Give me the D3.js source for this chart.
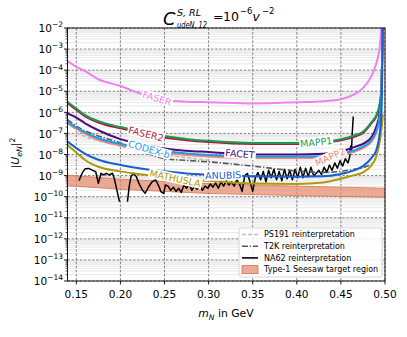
<!DOCTYPE html>
<html><head><meta charset="utf-8">
<script src="https://cdn.jsdelivr.net/npm/d3@7"></script>
<style>
body{margin:0;background:#fff}
svg{display:block}
text{font-family:"DejaVu Sans",sans-serif;fill:#000}
</style>
</head><body>
<svg id="c" width="407" height="337"></svg>
<script>
// ---- data: heavy neutral lepton mass (GeV) and log10 |U_eN|^2 ----
const masses = [0.14,0.15,0.16,0.175,0.2,0.225,0.25,0.275,0.3,0.35,0.4,0.43,0.45,0.465,0.475,0.485,0.49,0.494,0.496,0.4975];
const faserExp    = [-3.57,-3.84,-4.05,-4.43,-4.75,-5.15,-5.42,-5.5,-5.52,-5.58,-5.52,-5.47,-5.38,-5.15,-4.85,-4.25,-3.7,-2.9,-1.9,null];
const faser2Exp   = [-5.56,-5.88,-6.19,-6.48,-6.76,-6.99,-7.19,-7.32,-7.41,-7.5,-7.5,-7.45,-7.33,-7.16,-6.98,-6.5,-6.2,-5.65,-4.85,-1.8];
const mapp1Exp    = [-5.5,-5.82,-6.13,-6.42,-6.7,-6.92,-7.12,-7.26,-7.35,-7.45,-7.45,-7.4,-7.28,-7.1,-6.92,-6.45,-6.15,-5.6,-4.8,-1.8];
const facetExp    = [-6.05,-6.25,-6.52,-6.85,-7.27,-7.5,-7.72,-7.82,-7.88,-8.0,-8.0,-7.97,-7.85,-7.65,-7.5,-7.16,-6.7,-6.0,-4.9,-1.8];
const codexbExp   = [-6.45,-6.72,-6.95,-7.23,-7.5,-7.7,-7.85,-7.95,-8.02,-8.1,-8.1,-8.08,-7.98,-7.8,-7.63,-7.3,-6.9,-6.2,-5.0,-1.8];
const mapp2Exp    = [-6.52,-6.79,-7.02,-7.3,-7.57,-7.77,-7.92,-8.02,-8.09,-8.17,-8.17,-8.15,-8.05,-7.87,-7.7,-7.37,-6.97,-6.27,-5.1,-1.9];
const t2kExp      = [-6.35,-6.65,-6.88,-7.12,-7.45,-7.85,-8.2,-8.28,-8.35,-8.55,-8.78,-8.85,-8.8,-8.7,-8.62,-8.45,null,null,null,null];
const ps191Exp    = [null,-6.97,-7.15,-7.35,-7.6,-7.82,-8.0,-8.15,-8.27,null,null,null,null,null,null,null,null,null,null,null];
const anubisExp   = [-7.39,-7.7,-7.97,-8.25,-8.5,-8.68,-8.8,-8.9,-8.96,-9.03,-9.05,-9.03,-8.92,-8.75,-8.55,-8.15,-7.8,-7.0,-6.0,-1.8];
const mathuslaExp = [-7.55,-7.9,-8.26,-8.58,-8.8,-8.95,-9.08,-9.18,-9.25,-9.38,-9.4,-9.33,-9.15,-8.98,-8.85,-8.5,-8.1,-7.4,-6.8,-6.1];

const bandMass     = [0.14,0.2,0.3,0.4,0.5];
const bandUpperExp = [-8.98,-9.17,-9.38,-9.5,-9.6];
const bandLowerExp = [-9.48,-9.65,-9.85,-9.95,-10.03];

const na62Mass = [0.153,0.157,0.160,0.164,0.168,0.172,0.175,0.178,0.181,0.184,0.187,0.191,0.193,0.196,0.199,0.203,
 0.208,0.210,0.212,0.215,0.218,0.221,0.225,0.228,0.232,0.236,0.240,0.243,0.246,0.249,0.251,0.254,0.257,0.260,0.263,0.266,
 0.269,0.272,0.275,0.278,0.281,0.284,0.287,0.290,0.293,0.296,0.299,0.302,0.305,0.308,0.311,0.314,0.317,0.320,0.323,0.326,
 0.329,0.332,0.335,0.338,0.341,0.344,0.347,0.350,0.353,0.356,0.359,0.362,0.365,0.368,0.371,0.374,0.377,0.380,0.383,0.386,
 0.389,0.392,0.395,0.398,0.401,0.404,0.407,0.410,0.413,0.416,0.419,0.422,0.425,0.428,0.431,0.434,0.437,0.440,0.443,0.446,
 0.449,0.452,0.455,0.458,0.460,0.461,0.462,0.463,0.464];
const na62Exp = [-9.24,-8.85,-8.68,-8.66,-8.74,-8.82,-9.37,-8.89,-8.97,-8.89,-8.97,-8.89,-9.13,-9.69,-10.24,null,
 -10.24,-9.5,-9.05,-8.89,-9.05,-9.37,-9.69,-9.84,-9.53,-9.29,-9.21,-9.45,-9.77,-9.84,-9.45,-9.5,-9.7,-9.55,-9.75,-9.6,
 -9.8,-9.45,-9.6,-9.4,-9.7,-9.5,-9.65,-9.45,-9.7,-9.5,-9.6,-9.4,-9.55,-9.35,-9.6,-9.3,-9.5,-9.25,-9.45,-9.3,
 -9.5,-9.2,-9.4,-9.75,-9.0,-8.9,-9.3,-9.75,-9.1,-8.85,-9.2,-8.8,-9.3,-8.75,-9.1,-8.7,-9.2,-8.8,-9.25,-8.7,
 -9.15,-8.75,-9.2,-8.7,-9.1,-8.6,-9.1,-8.65,-9.05,-8.6,-9.0,-8.9,-8.75,-8.95,-8.6,-8.85,-8.5,-8.75,-8.4,-8.65,
 -8.3,-8.55,-8.2,-8.4,-8.1,-7.6,-7.8,-6.9,-6.2];

const xTicks = [0.15,0.20,0.25,0.30,0.35,0.40,0.45,0.50];
const yTickExps = [-2,-3,-4,-5,-6,-7,-8,-9,-10,-11,-12,-13,-14];

// ---- layout ----
const svg = d3.select("#c");
const L = 67.5, R = 385, T = 28, B = 281;
const x = d3.scaleLinear().domain([0.14,0.5]).range([L,R]);
const y = d3.scaleLog().domain([1e-14,1e-2]).range([B,T]);
const Y = e => y(Math.pow(10,e));

svg.append("defs").append("clipPath").attr("id","clip")
  .append("rect").attr("x",L).attr("y",T).attr("width",R-L).attr("height",B-T);

// minor grid
const minor = [];
for (let k=-14;k<-2;k++) for (let j=2;j<10;j++) minor.push(j*Math.pow(10,k));
svg.append("g").selectAll("line").data(minor).join("line")
  .attr("x1",L).attr("x2",R).attr("y1",d=>y(d)).attr("y2",d=>y(d))
  .attr("stroke","#d9d9d9").attr("stroke-width",0.6);
// major grid
svg.append("g").selectAll("line").data(yTickExps).join("line")
  .attr("x1",L).attr("x2",R).attr("y1",d=>Y(d)).attr("y2",d=>Y(d))
  .attr("stroke","#666").attr("stroke-width",0.8).attr("stroke-dasharray","2.5,1.6");
svg.append("g").selectAll("line").data(xTicks).join("line")
  .attr("y1",T).attr("y2",B).attr("x1",d=>x(d)).attr("x2",d=>x(d))
  .attr("stroke","#666").attr("stroke-width",0.8).attr("stroke-dasharray","2.5,1.6");

const plot = svg.append("g").attr("clip-path","url(#clip)");

// seesaw band
const band = bandMass.map((m,i)=>({m,u:bandUpperExp[i],l:bandLowerExp[i]}));
plot.append("path").datum(band)
  .attr("d", d3.area().x(d=>x(d.m)).y0(d=>Y(d.l)).y1(d=>Y(d.u)))
  .attr("fill","#e58a6e").attr("fill-opacity",0.72)
  .attr("stroke","#d9714f").attr("stroke-width",0.8);

const mkLine = d3.line().defined(d=>d.v!=null).x(d=>x(d.m)).y(d=>Y(d.v)).curve(d3.curveMonotoneX);
const pts = (ms,vs)=>ms.map((m,i)=>({m,v:vs[i]}));

// NA62
plot.append("path").datum(pts(na62Mass,na62Exp))
  .attr("d", d3.line().defined(d=>d.v!=null).x(d=>x(d.m)).y(d=>Y(d.v)))
  .attr("fill","none").attr("stroke","#000").attr("stroke-width",1.5).attr("stroke-linejoin","round");

const series = [
  {name:"PS191", v:ps191Exp, c:"#bdbdbd", w:1.5, dash:"4,2"},
  {name:"T2K", v:t2kExp, c:"#595959", w:1.6, dash:"6,1.8,1.3,1.8"},
  {name:"FASER", v:faserExp, c:"#ee82ee", w:2},
  {name:"FASER2", v:faser2Exp, c:"#b2183c", w:2},
  {name:"MAPP1", v:mapp1Exp, c:"#1c9a4f", w:2},
  {name:"FACET", v:facetExp, c:"#4b0c7c", w:2},
  {name:"MAPP2", v:mapp2Exp, c:"#f4876e", w:2},
  {name:"CODEX-b", v:codexbExp, c:"#1a9cec", w:2},
  {name:"MATHUSLA", v:mathuslaExp, c:"#ad9a0c", w:2},
  {name:"ANUBIS", v:anubisExp, c:"#1a5fcf", w:2},
];
series.forEach(s=>{
  plot.append("path").datum(pts(masses,s.v)).attr("d",mkLine)
    .attr("fill","none").attr("stroke",s.c).attr("stroke-width",s.w)
    .attr("stroke-dasharray",s.dash||null);
});

// inline labels
function interp(vs,m){
  for (let i=0;i<masses.length-1;i++){
    if (m>=masses[i] && m<=masses[i+1]){
      const t=(m-masses[i])/(masses[i+1]-masses[i]);
      return vs[i]+(vs[i+1]-vs[i])*t;
    }
  }
}
const labels = [
  {t:"FASER", m:0.2415, v:faserExp, c:"#ee82ee", r:17},
  {t:"FASER2", m:0.229, v:faser2Exp, c:"#b2183c", r:14},
  {t:"CODEX-b", m:0.2325, v:codexbExp, c:"#1a9cec", r:16},
  {t:"FACET", m:0.3356, v:facetExp, c:"#4b0c7c", r:5},
  {t:"MAPP1", m:0.422, v:mapp1Exp, c:"#1c9a4f", r:-6},
  {t:"MAPP2", m:0.4377, v:mapp2Exp, c:"#f4876e", r:-24},
  {t:"ANUBIS", m:0.3165, v:anubisExp, c:"#1a5fcf", r:-2},
  {t:"MATHUSLA", m:0.262, v:mathuslaExp, c:"#ad9a0c", r:12},
];
labels.forEach(l=>{
  const g = svg.append("g").attr("transform",`translate(${x(l.m)},${Y(interp(l.v,l.m))}) rotate(${l.r})`);
  const rect = g.append("rect").attr("fill","#fff");
  const tx = g.append("text").attr("text-anchor","middle").attr("dominant-baseline","central")
    .attr("font-size",9.5).style("fill",l.c).text(l.t);
  const bb = tx.node().getBBox();
  rect.attr("x",bb.x-1).attr("y",bb.y+0.5).attr("width",bb.width+2).attr("height",bb.height-1);
});

// spines
svg.append("rect").attr("x",L).attr("y",T).attr("width",R-L).attr("height",B-T)
  .attr("fill","none").attr("stroke","#000").attr("stroke-width",0.9);

// ticks
svg.append("g").selectAll("line").data(xTicks).join("line")
  .attr("x1",d=>x(d)).attr("x2",d=>x(d)).attr("y1",B).attr("y2",B+3.5).attr("stroke","#000").attr("stroke-width",0.9);
svg.append("g").selectAll("text").data(xTicks).join("text")
  .attr("x",d=>x(d)).attr("y",298).attr("text-anchor","middle").attr("font-size",10.5)
  .text(d=>d3.format(".2f")(d));
svg.append("g").selectAll("line").data(yTickExps).join("line")
  .attr("x1",L-3.5).attr("x2",L).attr("y1",d=>Y(d)).attr("y2",d=>Y(d)).attr("stroke","#000").attr("stroke-width",0.9);
svg.append("g").selectAll("line").data(minor).join("line")
  .attr("x1",L-2).attr("x2",L).attr("y1",d=>y(d)).attr("y2",d=>y(d)).attr("stroke","#000").attr("stroke-width",0.6);
const yt = svg.append("g").selectAll("text").data(yTickExps).join("text")
  .attr("x",L-4.5).attr("y",d=>Y(d)+4.2).attr("text-anchor","end").attr("font-size",10.5);
yt.append("tspan").text("10");
yt.append("tspan").attr("dy",-4.8).attr("font-size",7.5).text(d=>"\u2212"+Math.abs(d));

// axis labels
const xl = svg.append("text").attr("x",226).attr("y",317).attr("text-anchor","middle").attr("font-size",10.8);
xl.append("tspan").attr("font-style","italic").text("m");
xl.append("tspan").attr("font-style","italic").attr("font-size",7.6).attr("dy",2.5).text("N");
xl.append("tspan").attr("dy",-2.5).text(" in GeV");

const yl = svg.append("text").attr("transform","translate(19,153) rotate(-90)").attr("text-anchor","middle").attr("font-size",11);
yl.append("tspan").text("|");
yl.append("tspan").attr("font-style","italic").text("U");
yl.append("tspan").attr("font-style","italic").attr("font-size",7.7).attr("dy",2.5).text("eN");
yl.append("tspan").attr("dy",-2.5).text("|");
yl.append("tspan").attr("font-size",7.7).attr("dy",-4.5).text("2");

// title
const tt = svg.append("g");
tt.append("text").attr("x",163).attr("y",25).attr("font-size",18).attr("font-style","italic").text("C");
tt.append("text").attr("x",177).attr("y",15.5).attr("font-size",9).attr("font-style","italic")
  .attr("textLength",24).attr("lengthAdjust","spacingAndGlyphs").text("S, RL");
tt.append("text").attr("x",177).attr("y",28).attr("font-size",8.5).attr("font-style","italic")
  .attr("textLength",30).attr("lengthAdjust","spacingAndGlyphs").text("udeN, 12");
tt.append("text").attr("x",213).attr("y",21).attr("font-size",12.5).text("=");
tt.append("text").attr("x",223).attr("y",21).attr("font-size",12.5).text("10");
tt.append("text").attr("x",240).attr("y",14).attr("font-size",8.5).text("\u22126");
tt.append("text").attr("x",252.5).attr("y",21).attr("font-size",12.5).attr("font-style","italic").text("v");
tt.append("text").attr("x",262).attr("y",14).attr("font-size",8.5).text("\u22122");

// legend
const legendItems = [
  {t:"PS191 reinterpretation", type:"line", c:"#bdbdbd", dash:"4,2"},
  {t:"T2K reinterpretation", type:"line", c:"#595959", dash:"6,1.8,1.3,1.8"},
  {t:"NA62 reinterpretation", type:"line", c:"#000", dash:null},
  {t:"Type-1 Seesaw target region", type:"patch", c:"#e58a6e"},
];
const lg = svg.append("g");
lg.append("rect").attr("x",239).attr("y",228).attr("width",143).attr("height",49).attr("rx",2)
  .attr("fill","#fff").attr("fill-opacity",0.85).attr("stroke","#cccccc").attr("stroke-width",0.8);
legendItems.forEach((it,i)=>{
  const cy = 234.5 + i*11.7;
  if (it.type==="line"){
    lg.append("line").attr("x1",242).attr("x2",258).attr("y1",cy).attr("y2",cy)
      .attr("stroke",it.c).attr("stroke-width",1.6).attr("stroke-dasharray",it.dash);
  } else {
    lg.append("rect").attr("x",242).attr("y",cy-4).attr("width",16).attr("height",8)
      .attr("fill",it.c).attr("fill-opacity",0.72).attr("stroke","#d9714f").attr("stroke-width",0.8);
  }
  lg.append("text").attr("x",264).attr("y",cy+2.8).attr("font-size",8).text(it.t);
});
</script>
</body></html>
